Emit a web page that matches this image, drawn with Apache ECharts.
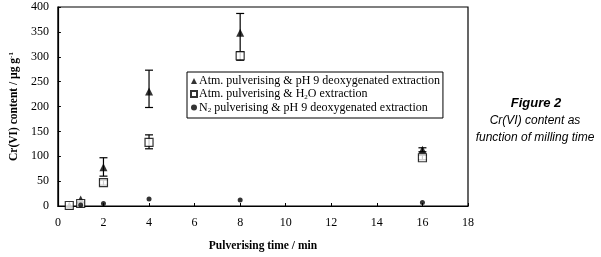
<!DOCTYPE html>
<html>
<head>
<meta charset="utf-8">
<script src="https://cdn.jsdelivr.net/npm/echarts@6/dist/echarts.min.js"></script>
<style>
  html, body { margin: 0; padding: 0; background: #fff; }
  #chart { width: 601px; height: 257px; }
</style>
</head>
<body>
<div id="chart"></div>
<script>
// pulverising time (min)
const timeTri = [0.5, 1, 2, 4, 8, 16];
const triVals = [1, 13, 78, 230, 348, 113];
const triLow = [null, null, 60, 198, 310, 109];
const triHigh = [null, null, 97, 273, 387, 117];

const timeSq = [0.5, 1, 2, 4, 8, 16];
const sqVals = [1, 5, 47, 128, 302, 97];
const sqLow = [null, null, 42, 115, 293, 93];
const sqHigh = [null, null, 52, 143, 310, 102];

const timeDot = [1, 2, 4, 8, 16];
const dotVals = [2, 5, 14, 12, 7];

const legendNames = [
  'Atm. pulverising & pH 9 deoxygenated extraction',
  'Atm. pulverising & H2O extraction',
  'N2 pulverising & pH 9 deoxygenated extraction'
];

function errData(xs, lo, hi) {
  const out = [];
  xs.forEach((x, i) => {
    if (lo[i] != null) out.push([x, lo[i], hi[i]]);
  });
  return out;
}

function renderErr(params, api) {
  const x = api.value(0);
  const lo = api.coord([x, api.value(1)]);
  const hi = api.coord([x, api.value(2)]);
  const cap = 4;
  const style = { stroke: '#000', lineWidth: 1.2 };
  return {
    type: 'group',
    children: [
      { type: 'line', shape: { x1: lo[0], y1: lo[1], x2: hi[0], y2: hi[1] }, style },
      { type: 'line', shape: { x1: lo[0] - cap, y1: lo[1], x2: lo[0] + cap, y2: lo[1] }, style },
      { type: 'line', shape: { x1: hi[0] - cap, y1: hi[1], x2: hi[0] + cap, y2: hi[1] }, style }
    ]
  };
}

const chart = echarts.init(document.getElementById('chart'));
const serif = 'Liberation Serif, Times New Roman, serif';
const sans = 'Liberation Sans, Arial, sans-serif';

chart.setOption({
  backgroundColor: '#fff',
  animation: false,
  grid: {
    left: 55, right: 133, top: 7, bottom: 46,
    show: true, borderColor: '#000', borderWidth: 1.2, backgroundColor: 'transparent'
  },
  xAxis: {
    type: 'value',
    min: 0, max: 18, interval: 2,
    name: 'Pulverising time / min',
    nameLocation: 'middle',
    nameGap: 34,
    nameTextStyle: { fontFamily: serif, fontWeight: 'bold', fontSize: 11.5, color: '#000' },
    axisLine: { show: true, lineStyle: { color: '#000', width: 1.2 } },
    axisTick: { show: true, inside: true, length: 3, lineStyle: { color: '#000' } },
    axisLabel: { fontFamily: serif, fontSize: 12, color: '#000', margin: 11 },
    splitLine: { show: false }
  },
  yAxis: {
    type: 'value',
    min: 0, max: 400, interval: 50,
    name: 'Cr(VI) content / µg g{sup|-1}',
    nameLocation: 'middle',
    nameGap: 33,
    nameTextStyle: {
      fontFamily: serif, fontWeight: 'bold', fontSize: 11.5, color: '#000',
      rich: { sup: { fontFamily: serif, fontWeight: 'bold', fontSize: 7, verticalAlign: 'top', color: '#000' } }
    },
    axisLine: { show: true, lineStyle: { color: '#000', width: 1.2 } },
    axisTick: { show: true, inside: true, length: 3, lineStyle: { color: '#000' } },
    axisLabel: { fontFamily: serif, fontSize: 12, color: '#000', margin: 9 },
    splitLine: { show: false }
  },
  legend: {
    left: 187, top: 72,
    orient: 'vertical',
    itemGap: 1,
    itemWidth: 6, itemHeight: 6,
    padding: [3, 3, 4, 3],
    borderColor: '#000', borderWidth: 1,
    backgroundColor: '#fff',
    data: legendNames,
    formatter: function (name) {
      if (name === legendNames[1]) return 'Atm. pulverising & H{sub|2}O extraction';
      if (name === legendNames[2]) return 'N{sub|2} pulverising & pH 9 deoxygenated extraction';
      return name;
    },
    textStyle: {
      fontFamily: serif, fontSize: 12, color: '#000', padding: [0, 0, 0, -3],
      rich: { sub: { fontFamily: serif, fontSize: 7, verticalAlign: 'bottom', padding: [6, 0, 0, 0], color: '#000' } }
    }
  },
  graphic: [
    { type: 'text', x: 536, y: 97, style: { text: 'Figure 2', align: 'center', font: 'italic bold 13px ' + sans, fill: '#000' } },
    { type: 'text', x: 535, y: 115, style: { text: 'Cr(VI) content as', align: 'center', font: 'italic 12px ' + sans, fill: '#000' } },
    { type: 'text', x: 535, y: 132, style: { text: 'function of milling time', align: 'center', font: 'italic 12px ' + sans, fill: '#000' } }
  ],
  series: [
    {
      name: legendNames[0], type: 'scatter',
      symbol: 'triangle', symbolSize: 8,
      itemStyle: { color: '#000' },
      data: timeTri.map((x, i) => [x, triVals[i]]),
      z: 3
    },
    {
      name: legendNames[1], type: 'scatter',
      symbol: 'rect', symbolSize: 8,
      itemStyle: { color: '#fff', borderColor: '#000', borderWidth: 1.2 },
      data: timeSq.map((x, i) => [x, sqVals[i]]),
      z: 4
    },
    {
      name: legendNames[2], type: 'scatter',
      symbol: 'circle', symbolSize: 5,
      itemStyle: { color: '#000' },
      data: timeDot.map((x, i) => [x, dotVals[i]]),
      z: 5
    },
    {
      type: 'custom', renderItem: renderErr, silent: true,
      data: errData(timeTri, triLow, triHigh), z: 2
    },
    {
      type: 'custom', renderItem: renderErr, silent: true,
      data: errData(timeSq, sqLow, sqHigh), z: 2
    }
  ]
});
</script>
</body>
</html>
